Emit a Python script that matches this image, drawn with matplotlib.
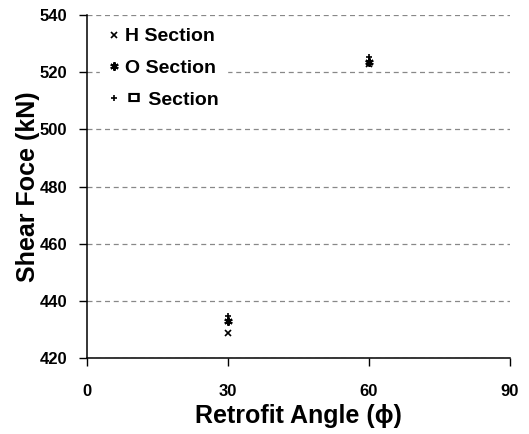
import matplotlib
matplotlib.use("Agg")
import matplotlib.pyplot as plt

plt.rcParams['font.family'] = ['Liberation Sans', 'Noto Sans CJK KR', 'DejaVu Sans']
plt.rcParams['font.weight'] = 'bold'

angles = [30, 60]
h_section = [428.8, 522.8]
o_section = [432.9, 523.6]
box_section = [434.6, 525.2]
labels = ['H Section', 'O Section', 'ㅁ Section']

fig = plt.figure(figsize=(5.29, 4.34), dpi=100)
ax = fig.add_axes([0.164, 0.175, 0.8, 0.79])

ax.plot(angles, h_section, linestyle='none', marker='x', color='black',
        markersize=5, markeredgewidth=1.2, label=labels[0])
ax.plot(angles, o_section, linestyle='none', marker=(6, 2, 0), color='black',
        markersize=6, markeredgewidth=1.5, label=labels[1])
ax.plot(angles, box_section, linestyle='none', marker='+', color='black',
        markersize=5, markeredgewidth=1.2, label=labels[2])

ax.set_xlim(0, 90)
ax.set_ylim(420, 540)
ax.set_xticks([0, 30, 60, 90])
ax.set_yticks(range(420, 541, 20))
ax.yaxis.grid(True, linestyle=(0, (4, 3)), color='#888888', linewidth=0.9)
ax.set_axisbelow(True)
for s in ['top', 'right']:
    ax.spines[s].set_visible(False)
ax.spines['left'].set_linewidth(1.1)
ax.spines['bottom'].set_linewidth(1.1)
ax.tick_params(axis='both', labelsize=12, length=6, width=1, direction='out')
ax.tick_params(axis='y', pad=8)
ax.tick_params(axis='x', pad=13)

ax.set_xlabel('Retrofit Angle (\u03d5)', fontsize=18, fontweight='bold', labelpad=3)
ax.set_ylabel('Shear Foce (kN)', fontsize=18, fontweight='bold', labelpad=0)

leg = ax.legend(loc='upper left', bbox_to_anchor=(0.022, 0.997), frameon=True,
                fancybox=False, edgecolor='white', framealpha=1,
                handlelength=0.6, handletextpad=0.3, labelspacing=0.72,
                borderaxespad=0.2, prop={'size': 14, 'weight': 'bold'})

fig.savefig('out.png', dpi=100)
